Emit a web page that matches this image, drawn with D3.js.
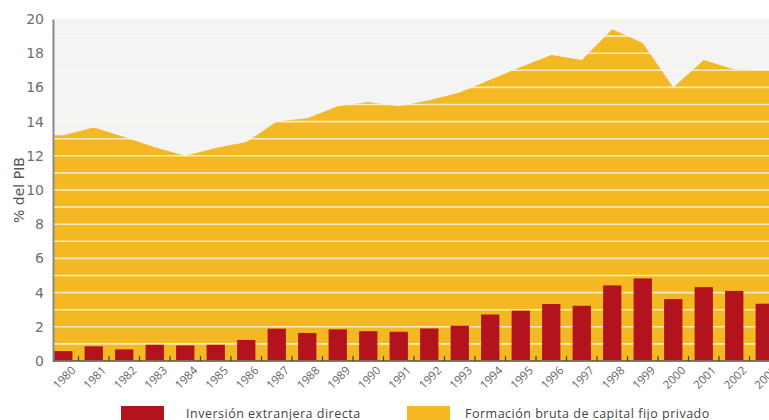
<!DOCTYPE html>
<html>
<head>
<meta charset="utf-8">
<script src="https://d3js.org/d3.v7.min.js"></script>
<style>
  body { margin: 0; background: #fff; }
  text { font-family: "DejaVu Sans", sans-serif; }
</style>
</head>
<body>
<svg width="769" height="420"></svg>
<script>
// años
var years = ["1980","1981","1982","1983","1984","1985","1986","1987","1988","1989","1990","1991",
             "1992","1993","1994","1995","1996","1997","1998","1999","2000","2001","2002","2003"];
// Inversión extranjera directa (% del PIB)
var ied = [0.58, 0.86, 0.68, 0.95, 0.91, 0.95, 1.23, 1.89, 1.64, 1.85, 1.74, 1.71,
           1.90, 2.06, 2.72, 2.94, 3.33, 3.23, 4.42, 4.83, 3.62, 4.32, 4.10, 3.35];
// Formación bruta de capital fijo privado (% del PIB)
var fbkf = [13.2, 13.65, 13.1, 12.5, 12.0, 12.45, 12.8, 14.0, 14.2, 14.9, 15.15, 14.9,
            15.25, 15.7, 16.45, 17.2, 17.9, 17.6, 19.4, 18.6, 16.0, 17.6, 17.05, 17.0];
var yTicks = [0, 2, 4, 6, 8, 10, 12, 14, 16, 18, 20];

var svg = d3.select("svg");
var pLeft = 53, pRight = 769, pTop = 19, pBottom = 361;

var x = d3.scaleBand().domain(years).range([48, 780]).paddingInner(0.4).paddingOuter(0.2);
var y = d3.scaleLinear().domain([0, 20]).range([pBottom, pTop]);
var cx = function(d) { return x(d) + x.bandwidth() / 2; };

// fondo
svg.append("rect")
  .attr("x", pLeft).attr("y", pTop)
  .attr("width", pRight - pLeft).attr("height", pBottom - pTop)
  .attr("fill", "#f4f4f4");

// area
var pts = years.map(function(d, i) { return [cx(d), fbkf[i]]; });
pts.unshift([pLeft, fbkf[0]]);
pts.push([pRight, fbkf[fbkf.length - 1]]);

svg.append("path")
  .datum(pts)
  .attr("fill", "#f4b922")
  .attr("d", d3.area()
    .x(function(d) { return d[0]; })
    .y0(y(0))
    .y1(function(d) { return y(d[1]); }));

// lineas blancas cada 1%
svg.append("g")
  .selectAll("line")
  .data(d3.range(1, 21))
  .enter().append("line")
  .attr("x1", pLeft + 1).attr("x2", pRight)
  .attr("y1", function(d) { return y(d); })
  .attr("y2", function(d) { return y(d); })
  .attr("stroke", "#fff8e8")
  .attr("stroke-opacity", 0.8)
  .attr("stroke-width", 1.6);

// barras
svg.append("g")
  .selectAll("rect")
  .data(years)
  .enter().append("rect")
  .attr("x", function(d) { return x(d); })
  .attr("width", x.bandwidth())
  .attr("y", function(d, i) { return y(ied[i]); })
  .attr("height", function(d, i) { return y(0) - 1 - y(ied[i]); })
  .attr("fill", "#b3131d");

// eje y
var gy = svg.append("g")
  .attr("transform", "translate(" + pLeft + ",0)")
  .call(d3.axisLeft(y).tickValues(yTicks).tickSize(0).tickPadding(9));
gy.select(".domain").attr("stroke", "#888").attr("stroke-width", 2);
gy.selectAll("text").attr("fill", "#6e6e6e").style("font-size", "14px").style("font-family", "DejaVu Sans");

svg.append("text")
  .attr("transform", "translate(24," + ((pTop + pBottom) / 2) + ") rotate(-90)")
  .attr("text-anchor", "middle")
  .attr("fill", "#555")
  .style("font-size", "14px")
  .text("% del PIB");

// eje x
svg.append("line")
  .attr("x1", pLeft).attr("x2", pRight)
  .attr("y1", pBottom).attr("y2", pBottom)
  .attr("stroke", "#555").attr("stroke-width", 1.5);

svg.append("g")
  .selectAll("line")
  .data(years.slice(1))
  .enter().append("line")
  .attr("x1", function(d) { return x(d) - x.step() * x.paddingInner() / 2; })
  .attr("x2", function(d) { return x(d) - x.step() * x.paddingInner() / 2; })
  .attr("y1", pBottom - 5).attr("y2", pBottom)
  .attr("stroke", "#4a4a30").attr("stroke-width", 1.3);

svg.append("g")
  .selectAll("text")
  .data(years)
  .enter().append("text")
  .attr("transform", function(d) { return "translate(" + (cx(d) + 7) + "," + (pBottom + 4) + ") rotate(-45)"; })
  .attr("text-anchor", "end")
  .attr("dy", "0.75em")
  .attr("fill", "#666")
  .style("font-size", "11.5px")
  .style("font-family", "Open Sans")
  .text(function(d) { return d; });

// leyenda
var legend = [
  { label: "Inversión extranjera directa", color: "#b3131d", x: 121 },
  { label: "Formación bruta de capital fijo privado", color: "#f4b922", x: 407 }
];
var lg = svg.append("g").selectAll("g").data(legend).enter().append("g")
  .attr("transform", function(d) { return "translate(" + d.x + ",406)"; });
lg.append("rect").attr("width", 43).attr("height", 16).attr("fill", function(d) { return d.color; });
lg.append("text")
  .attr("x", function(d, i) { return i === 0 ? 65 : 58; })
  .attr("y", 12)
  .attr("fill", "#444")
  .style("font-size", "12.5px")
  .style("letter-spacing", "0.5px")
  .style("font-family", "Open Sans")
  .text(function(d) { return d.label; });
</script>
</body>
</html>
